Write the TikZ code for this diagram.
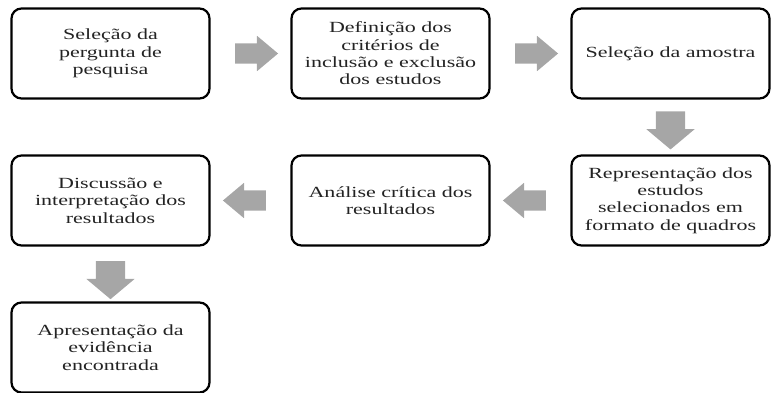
\documentclass[tikz,border=0pt]{standalone}
\usepackage{fontspec}
\setmainfont{Liberation Serif}[FakeStretch=1.42]
\usetikzlibrary{shapes.arrows, positioning, calc}

\definecolor{arrowgray}{RGB}{166,166,166}
\definecolor{textgray}{RGB}{35,35,35}

\begin{document}
\begin{tikzpicture}[x=1pt, y=1pt, on grid, node distance=147pt and 280pt,
    stepbox/.style={draw, line width=2.2pt, rounded corners=10pt,
        minimum width=198pt, minimum height=90pt, align=center,
        text=textgray, font=\fontsize{15.5}{17.4}\selectfont},
    flow/.style={single arrow, fill=arrowgray, draw=none, inner xsep=0pt,
        inner ysep=10pt, minimum height=43pt,
        single arrow head extend=7.5pt, single arrow tip angle=80},
    flowdown/.style={flow, rotate=270, inner ysep=14.5pt, minimum height=38pt,
        single arrow head extend=9.5pt, single arrow tip angle=100}]
    \useasboundingbox (0,0) rectangle (771,-392);

    % Steps
    \node[stepbox] (b1) at (110.5,-53.5) {Seleção da\\pergunta de\\pesquisa};
    \node[stepbox] (b2) [right=of b1] {Definição dos\\critérios de\\inclusão e exclusão\\dos estudos};
    \node[stepbox] (b3) [right=of b2] {Seleção da amostra};
    \node[stepbox] (b4) [below=of b3] {Representação dos\\estudos\\selecionados em\\formato de quadros};
    \node[stepbox] (b5) [left=of b4] {Análise crítica dos\\resultados};
    \node[stepbox] (b6) [left=of b5] {Discussão e\\interpretação dos\\resultados};
    \node[stepbox] (b7) [below=of b6] {Apresentação da\\evidência\\encontrada};

    % Arrows
    \node[flow] (a1) at ($(b1.east)!0.5!(b2.west)$) {};
    \node[flow] (a2) at ($(b2.east)!0.5!(b3.west)$) {};
    \node[flowdown] (a3) at ($(b3.south)!0.45!(b4.north)$) {};
    \node[flow, rotate=180] (a4) at ($(b4.west)!0.5!(b5.east)$) {};
    \node[flow, rotate=180] (a5) at ($(b5.west)!0.5!(b6.east)$) {};
    \node[flowdown] (a6) at ($(b6.south)!0.5!(b7.north)$) {};
\end{tikzpicture}
\end{document}
